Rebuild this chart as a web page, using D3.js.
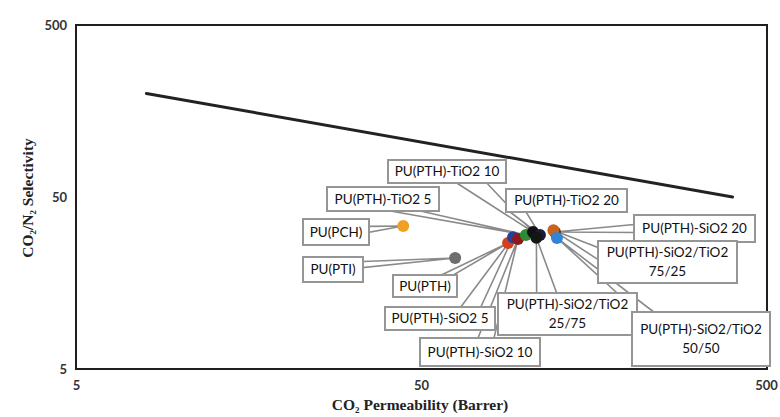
<!DOCTYPE html>
<html>
<head>
<meta charset="utf-8">
<script src="https://cdn.jsdelivr.net/npm/d3@7"></script>
<style>
  body { margin: 0; background: #fff; }
  svg { display: block; }
</style>
</head>
<body>
<script>
// chart size
var width = 780;
var height = 417;

// data
var samples = ["PU(PCH)", "PU(PTI)", "PU(PTH)", "PU(PTH)-SiO2 5", "PU(PTH)-SiO2 10",
               "PU(PTH)-TiO2 5", "PU(PTH)-TiO2 10", "PU(PTH)-TiO2 20",
               "PU(PTH)-SiO2/TiO2 25/75", "PU(PTH)-SiO2 20",
               "PU(PTH)-SiO2/TiO2 75/25", "PU(PTH)-SiO2/TiO2 50/50"];
var permeability = [44.4, 62.8, 89.4, 92.4, 95.5, 100.7, 105.6, 110.6, 108.0, 122.2, 121.0, 123.9];
var selectivity  = [33.9, 22.1, 27.0, 29.2, 28.5, 30.1, 31.3, 30.1, 29.0, 31.3, 32.0, 28.9];
var colors = ["#f0a022", "#6e6e6e", "#d2401e", "#23409e", "#8a1c1c", "#2f8a35",
              "#111111", "#1c1c38", "#151515", "#5e2610", "#c8641c", "#3285d6"];

// upper bound line (two end points)
var boundX = [8, 400];
var boundY = [200, 50];

var tickValues = [5, 50, 500];

// callout boxes (pixel layout, not data)
var callouts = [
  {box: [303, 219, 369, 245], side: "right",  t: 0.4,  hw: 3,  lines: ["PU(PCH)"]},
  {box: [303, 257, 363, 282], side: "right",  t: 0.3,  hw: 3,  lines: ["PU(PTI)"]},
  {box: [393, 275, 457, 297], side: "top",    t: 0.85, hw: 6,  lines: ["PU(PTH)"]},
  {box: [385, 307, 495, 330], side: "top",    t: 0.78, hw: 10, lines: ["PU(PTH)-SiO2 5"]},
  {box: [420, 338, 540, 366], side: "top",    t: 0.55, hw: 8,  lines: ["PU(PTH)-SiO2 10"]},
  {box: [327, 187, 439, 211], side: "bottom", t: 0.7,  hw: 15, lines: ["PU(PTH)-TiO2 5"]},
  {box: [388, 160, 506, 183], side: "bottom", t: 0.71, hw: 15, lines: ["PU(PTH)-TiO2 10"]},
  {box: [506, 189, 627, 212], side: "bottom", t: 0.1,  hw: 8,  lines: ["PU(PTH)-TiO2 20"]},
  {box: [498, 293, 637, 335], side: "top",    t: 0.35, hw: 10, lines: ["PU(PTH)-SiO2/TiO2", "25/75"]},
  {box: [634, 215, 755, 242], side: "left",   t: 0.5,  hw: 4,  lines: ["PU(PTH)-SiO2 20"]},
  {box: [598, 241, 737, 283], side: "left",   t: 0.3,  hw: 6,  lines: ["PU(PTH)-SiO2/TiO2", "75/25"]},
  {box: [632, 312, 770, 366], side: "top",    t: 0.1,  hw: 8,  lines: ["PU(PTH)-SiO2/TiO2", "50/50"]}
];

var svg = d3.select("body")
            .append("svg")
            .attr("width", width)
            .attr("height", height);

// log scales on both axes
var x = d3.scaleLog().domain([5, 500]).range([76, 766]);
var y = d3.scaleLog().domain([5, 500]).range([369, 25]);

// tick labels
svg.append("g")
   .attr("transform", "translate(0,369)")
   .call(d3.axisBottom(x).tickValues(tickValues).tickSize(0).tickPadding(12).tickFormat(d3.format("d")));
svg.append("g")
   .attr("transform", "translate(76,0)")
   .call(d3.axisLeft(y).tickValues(tickValues).tickSize(0).tickPadding(9).tickFormat(d3.format("d")));
svg.selectAll(".domain").remove();
svg.selectAll(".tick text")
   .style("font-family", "Lato, 'Open Sans', sans-serif")
   .style("font-size", "13px")
   .style("font-weight", "bold")
   .style("fill", "#333");

// plot frame
svg.append("rect")
   .attr("x", x(5)).attr("y", y(500))
   .attr("width", x(500) - x(5) + 1).attr("height", y(5) - y(500))
   .attr("fill", "none")
   .attr("stroke", "#1e1e1e")
   .attr("stroke-width", 2);

// upper bound
svg.append("line")
   .attr("x1", x(boundX[0])).attr("y1", y(boundY[0]))
   .attr("x2", x(boundX[1])).attr("y2", y(boundY[1]))
   .attr("stroke", "#222")
   .attr("stroke-width", 3)
   .attr("stroke-linecap", "round");

// callout wedges
function wedge(c, i) {
  var b = c.box, tx = x(permeability[i]), ty = y(selectivity[i]);
  var a, bb;
  if (c.side == "right" || c.side == "left") {
    var ex = c.side == "right" ? b[2] : b[0];
    var my = b[1] + c.t * (b[3] - b[1]);
    a = [ex, my - c.hw]; bb = [ex, my + c.hw];
  } else {
    var ey = c.side == "top" ? b[1] : b[3];
    var mx = b[0] + c.t * (b[2] - b[0]);
    a = [mx - c.hw, ey]; bb = [mx + c.hw, ey];
  }
  return "M" + a + "L" + [tx, ty] + "L" + bb + "Z";
}

var g = svg.append("g");
g.selectAll("path.wedge")
 .data(callouts)
 .enter()
 .append("path")
 .attr("class", "wedge")
 .attr("d", wedge)
 .attr("fill", "#fff")
 .attr("stroke", "#8a8a8a")
 .attr("stroke-width", 1.6);

g.selectAll("rect.box")
 .data(callouts)
 .enter()
 .append("rect")
 .attr("class", "box")
 .attr("x", function(d) { return d.box[0]; })
 .attr("y", function(d) { return d.box[1]; })
 .attr("width", function(d) { return d.box[2] - d.box[0]; })
 .attr("height", function(d) { return d.box[3] - d.box[1]; })
 .attr("fill", "#fff")
 .attr("stroke", "#959595")
 .attr("stroke-width", 2);

g.selectAll("text.lab")
 .data(callouts)
 .enter()
 .append("text")
 .attr("class", "lab")
 .attr("text-anchor", "middle")
 .style("font-family", "Lato, 'Open Sans', sans-serif")
 .style("font-size", "13.5px")
 .style("fill", "#111")
 .each(function(d) {
   var cx = (d.box[0] + d.box[2]) / 2, cy = (d.box[1] + d.box[3]) / 2;
   var n = d.lines.length;
   var t = d3.select(this);
   d.lines.forEach(function(s, k) {
     t.append("tspan")
      .attr("x", cx)
      .attr("y", cy + (k - (n - 1) / 2) * 19)
      .attr("dy", "0.35em")
      .text(s);
   });
 });

// points
svg.selectAll("circle")
   .data(samples)
   .enter()
   .append("circle")
   .attr("cx", function(d, i) { return x(permeability[i]); })
   .attr("cy", function(d, i) { return y(selectivity[i]); })
   .attr("r", 6)
   .attr("fill", function(d, i) { return colors[i]; });

// axis titles
var xt = svg.append("text")
   .attr("x", 420).attr("y", 410)
   .attr("text-anchor", "middle")
   .style("font-family", "'Liberation Serif', 'Times New Roman', serif")
   .style("font-size", "15.5px")
   .style("font-weight", "bold")
   .style("fill", "#222");
xt.append("tspan").text("CO");
xt.append("tspan").attr("font-size", "9px").attr("dy", 3).text("2");
xt.append("tspan").attr("dy", -3).text(" Permeability (Barrer)");

var yt = svg.append("text")
   .attr("transform", "translate(33,198) rotate(-90)")
   .attr("text-anchor", "middle")
   .style("font-family", "'Liberation Serif', 'Times New Roman', serif")
   .style("font-size", "15.5px")
   .style("font-weight", "bold")
   .style("fill", "#222");
yt.append("tspan").text("CO");
yt.append("tspan").attr("font-size", "9px").attr("dy", 3).text("2");
yt.append("tspan").attr("dy", -3).text("/N");
yt.append("tspan").attr("font-size", "9px").attr("dy", 3).text("2");
yt.append("tspan").attr("dy", -3).text(" Selectivity");
</script>
</body>
</html>
